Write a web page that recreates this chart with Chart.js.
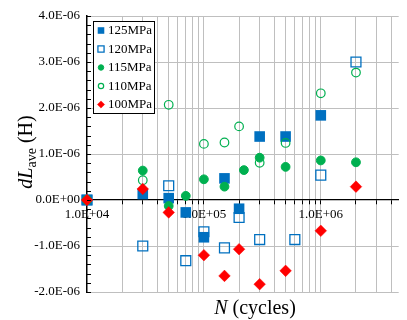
<!DOCTYPE html>
<html>
<head>
<meta charset="utf-8">
<script src="https://cdn.jsdelivr.net/npm/chart.js@4.4.1/dist/chart.umd.min.js"></script>
<style>
  html, body { margin: 0; padding: 0; background: #fff; }
  canvas { display: block; }
</style>
</head>
<body>
<canvas id="chart" width="407" height="320"></canvas>
<script>
// dL_ave vs number of cycles, one series per stress level

const seriesLabels = ['125MPa', '120MPa', '115MPa', '110MPa', '100MPa'];

// cycles (N) and dL_ave (H)
const cycles125 = [1e4, 3e4, 5e4, 7e4, 1e5, 1.5e5, 2e5, 3e5, 5e5, 1e6];
const dl125     = [0, 1.3e-7, 4e-8, -2.7e-7, -8.1e-7, 4.7e-7, -1.9e-7, 1.38e-6, 1.38e-6, 1.84e-6];

const cycles120 = [1e4, 3e4, 5e4, 7e4, 1e5, 1.5e5, 2e5, 3e5, 6e5, 1e6, 2e6];
const dl120     = [0, -1.0e-6, 3.1e-7, -1.32e-6, -6.9e-7, -1.04e-6, -3.8e-7, -8.6e-7, -8.6e-7, 5.4e-7, 3.0e-6];

const cycles115 = [1e4, 3e4, 5e4, 7e4, 1e5, 1.5e5, 2.2e5, 3e5, 5e5, 1e6, 2e6];
const dl115     = [0, 6.4e-7, -1.3e-7, 9e-8, 4.5e-7, 2.9e-7, 6.5e-7, 9.2e-7, 7.2e-7, 8.6e-7, 8.2e-7];

const cycles110 = [1e4, 3e4, 5e4, 1e5, 1.5e5, 2e5, 3e5, 5e5, 1e6, 2e6];
const dl110     = [0, 4.3e-7, 2.07e-6, 1.22e-6, 1.25e-6, 1.6e-6, 8.1e-7, 1.24e-6, 2.32e-6, 2.77e-6];

const cycles100 = [1e4, 3e4, 5e4, 1e5, 1.5e5, 2e5, 3e5, 5e5, 1e6, 2e6];
const dl100     = [0, 2.4e-7, -2.7e-7, -1.2e-6, -1.65e-6, -1.07e-6, -1.83e-6, -1.54e-6, -6.7e-7, 2.9e-7];

// axis ticks
const xLabelValues = [1e4, 1e5, 1e6];
const xLabelTexts  = ['1.0E+04', '1.0E+05', '1.0E+06'];
const yTickValues  = [-2e-6, -1e-6, 0, 1e-6, 2e-6, 3e-6, 4e-6];
const yTickTexts   = ['-2.0E-06', '-1.0E-06', '0.0E+00', '1.0E-06', '2.0E-06', '3.0E-06', '4.0E-06'];

const X_MIN = 1e4, X_MAX = 4.64e6;
const SERIF = "'Liberation Serif', 'Times New Roman', serif";
const BLUE = '#0070C0', GREEN = '#00B050', RED = '#FF0000', NONE = 'rgba(255,255,255,0)';

// log grid: 1..9 in every decade
const xGridValues = [];
for (let d = 1e4; d < X_MAX; d *= 10) {
  for (let m = 1; m <= 9; m++) {
    if (m * d <= X_MAX) xGridValues.push(m * d);
  }
}

const allX = [cycles125, cycles120, cycles115, cycles110, cycles100];
const allY = [dl125, dl120, dl115, dl110, dl100];
const styles = [
  { pointStyle: 'rect',    radius: 7.5, fill: BLUE,  stroke: BLUE,  width: 0 },
  { pointStyle: 'rect',    radius: 7,   fill: NONE,  stroke: BLUE,  width: 1.3 },
  { pointStyle: 'circle',  radius: 4.4, fill: GREEN, stroke: GREEN, width: 1 },
  { pointStyle: 'circle',  radius: 4.3, fill: NONE,  stroke: GREEN, width: 1.2 },
  { pointStyle: 'rectRot', radius: 5.8, fill: RED,   stroke: RED,   width: 0.5 }
];

const datasets = seriesLabels.map((label, i) => ({
  label: label,
  data: allX[i].map((x, j) => ({ x: x, y: allY[i][j] })),
  pointStyle: styles[i].pointStyle,
  pointRadius: styles[i].radius,
  backgroundColor: styles[i].fill,
  borderColor: styles[i].stroke,
  pointBorderWidth: styles[i].width,
  showLine: false,
  clip: false,
  order: seriesLabels.length - i   // later series drawn on top
}));

function sameValue(a, b) {
  return Math.abs(a - b) <= Math.abs(b) * 1e-9;
}

// titles, minor ticks and the boxed legend
const decorPlugin = {
  id: 'decor',
  afterDraw(chart) {
    const ctx = chart.ctx;
    const area = chart.chartArea;
    const yScale = chart.scales.y;

    ctx.save();

    // inside minor ticks on the y axis
    ctx.strokeStyle = '#000';
    ctx.lineWidth = 1;
    ctx.beginPath();
    for (let k = 0; k <= 30; k++) {
      const py = Math.round(yScale.getPixelForValue(-2e-6 + k * 2e-7)) + 0.5;
      ctx.moveTo(area.left, py);
      ctx.lineTo(area.left + 4, py);
    }
    ctx.stroke();

    // x title: N (cycles)
    ctx.fillStyle = '#000';
    ctx.textBaseline = 'middle';
    const fItal = 'italic 20px ' + SERIF;
    const fRom = '20px ' + SERIF;
    ctx.font = fItal;
    const wN = ctx.measureText('N').width;
    ctx.font = fRom;
    const wRest = ctx.measureText(' (cycles)').width;
    let tx = 255 - (wN + wRest) / 2;
    ctx.textAlign = 'left';
    ctx.font = fItal;
    ctx.fillText('N', tx, 309);
    ctx.font = fRom;
    ctx.fillText(' (cycles)', tx + wN, 309);

    // y title: dL_ave (H)
    ctx.translate(27, 152);
    ctx.rotate(-Math.PI / 2);
    const fSub = '14px ' + SERIF;
    ctx.font = fItal;
    const wdL = ctx.measureText('dL').width;
    ctx.font = fSub;
    const wSub = ctx.measureText('ave').width;
    ctx.font = fRom;
    const wH = ctx.measureText(' (H)').width;
    tx = -(wdL + wSub + wH) / 2;
    ctx.font = fItal;
    ctx.fillText('dL', tx, 0);
    ctx.font = fSub;
    ctx.fillText('ave', tx + wdL, 5);
    ctx.font = fRom;
    ctx.fillText(' (H)', tx + wdL + wSub, 0);
    ctx.setTransform(1, 0, 0, 1, 0, 0);

    // legend box
    ctx.fillStyle = '#fff';
    ctx.fillRect(93.5, 21.5, 61, 92);
    ctx.strokeStyle = '#000';
    ctx.lineWidth = 1;
    ctx.strokeRect(93.5, 21.5, 61, 92);
    ctx.font = '13px ' + SERIF;
    ctx.textBaseline = 'middle';
    seriesLabels.forEach((label, i) => {
      const cy = 30.5 + i * 18.5;
      const st = styles[i];
      const r = st.radius * 0.62;
      ctx.fillStyle = st.fill;
      ctx.strokeStyle = st.stroke;
      ctx.lineWidth = st.width;
      ctx.beginPath();
      if (st.pointStyle === 'rect') {
        const s = Math.SQRT1_2 * r;
        ctx.rect(101 - s, cy - s, 2 * s, 2 * s);
      } else if (st.pointStyle === 'rectRot') {
        ctx.moveTo(101 - r, cy); ctx.lineTo(101, cy - r);
        ctx.lineTo(101 + r, cy); ctx.lineTo(101, cy + r);
        ctx.closePath();
      } else {
        ctx.arc(101, cy, r, 0, Math.PI * 2);
      }
      ctx.fill();
      if (st.width > 0) ctx.stroke();
      ctx.fillStyle = '#000';
      ctx.fillText(label, 108, cy + 0.5);
    });

    ctx.restore();
  }
};

new Chart(document.getElementById('chart'), {
  type: 'scatter',
  data: { datasets: datasets },
  options: {
    responsive: false,
    animation: false,
    layout: { padding: { left: 0, top: 16, right: 0, bottom: 28 } },
    plugins: {
      legend: { display: false },
      tooltip: { enabled: false }
    },
    scales: {
      x: {
        type: 'logarithmic',
        min: X_MIN,
        max: X_MAX,
        position: { y: 0 },
        afterBuildTicks: (scale) => {
          scale.ticks = xGridValues.map(v => ({ value: v }));
        },
        ticks: {
          autoSkip: false,
          maxRotation: 0,
          minRotation: 0,
          padding: 3,
          color: '#000',
          font: { family: SERIF, size: 13 },
          callback: (value) => {
            const k = xLabelValues.findIndex(v => sameValue(value, v));
            return k >= 0 ? xLabelTexts[k] : '';
          }
        },
        grid: {
          color: (c) => (c.tick && sameValue(c.tick.value, X_MIN)) ? NONE : '#BFBFBF',
          lineWidth: 1,
          drawTicks: true,
          tickLength: 4,
          tickColor: '#000',
          tickWidth: 1
        },
        border: { color: '#000', width: 1.3 }
      },
      y: {
        min: -2e-6,
        max: 4e-6,
        afterBuildTicks: (scale) => {
          scale.ticks = yTickValues.map(v => ({ value: v }));
        },
        afterFit: (scale) => { scale.width = 87; },
        ticks: {
          padding: 7,
          color: '#000',
          font: { family: SERIF, size: 13 },
          callback: (value) => {
            const k = yTickValues.findIndex(v => v === 0 ? value === 0 : sameValue(value, v));
            return k >= 0 ? yTickTexts[k] : '';
          }
        },
        grid: {
          color: (c) => (c.tick && c.tick.value === 0) ? NONE : '#BFBFBF',
          lineWidth: 1,
          drawTicks: false
        },
        border: { color: '#000', width: 1.5 }
      }
    }
  },
  plugins: [decorPlugin]
});
</script>
</body>
</html>
